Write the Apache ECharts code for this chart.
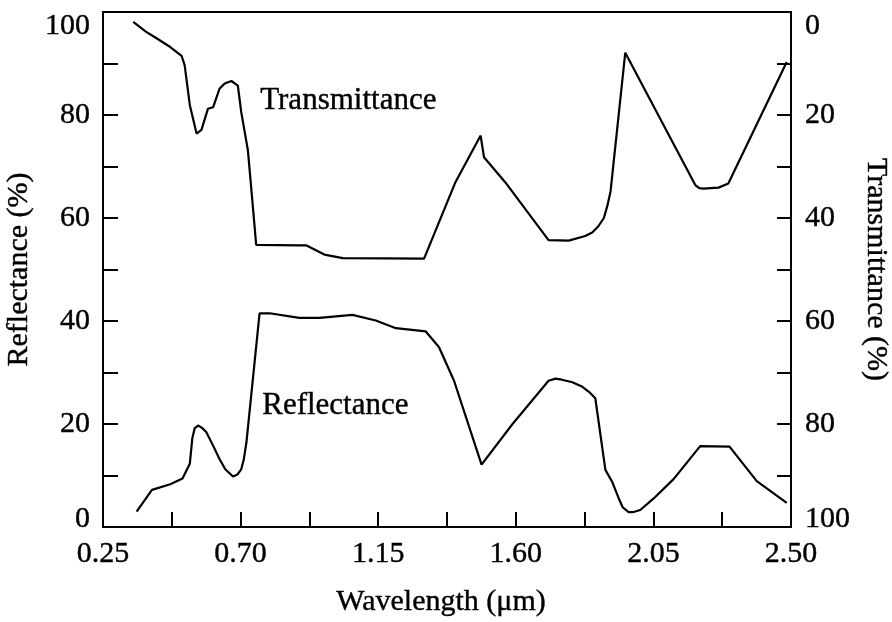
<!DOCTYPE html>
<html lang="en">
<head>
    <meta charset="UTF-8">
    <title>Reflectance and Transmittance</title>
    <script src="https://cdn.jsdelivr.net/npm/echarts@6/dist/echarts.min.js"></script>
    <style>
        html, body { margin: 0; padding: 0; background: #fff; }
    </style>
</head>
<body>
<div id="chart" style="width: 892px;height: 622px"></div>
<script type="text/javascript">
    // wavelength (um) and reflectance (%)
    var reflWavelength = [0.36, 0.41, 0.47, 0.51, 0.534, 0.542, 0.55, 0.561, 0.575, 0.588, 0.61, 0.631, 0.65, 0.675,
        0.69, 0.702, 0.71, 0.719, 0.762, 0.795, 0.892, 0.958, 1.066, 1.142, 1.208, 1.305, 1.349, 1.398, 1.488,
        1.588, 1.707, 1.73, 1.751, 1.785, 1.816, 1.84, 1.86, 1.893, 1.915, 1.937, 1.95, 1.969, 1.985, 2.007,
        2.05, 2.116, 2.203, 2.299, 2.388, 2.486];
    var reflValues = [3.0, 7.2, 8.3, 9.4, 12.3, 17.2, 19.2, 19.7, 19.2, 18.4, 15.8, 13.2, 11.2, 9.8,
        10.2, 11.2, 13.0, 16.4, 41.5, 41.5, 40.6, 40.6, 41.2, 40.1, 38.6, 38.0, 34.9, 28.4, 12.1,
        19.9, 28.4, 28.8, 28.6, 28.1, 27.3, 26.2, 25.0, 11.1, 8.8, 5.5, 3.8, 2.9, 2.9, 3.3,
        5.5, 9.3, 15.7, 15.6, 8.9, 4.7];

    // wavelength (um) and transmittance (%) on the right, inverted axis
    var transWavelength = [0.349, 0.39, 0.425, 0.47, 0.507, 0.517, 0.534, 0.556, 0.572, 0.593, 0.61, 0.631, 0.648, 0.67,
        0.691, 0.702, 0.724, 0.751, 0.892, 0.914, 0.974, 1.034, 1.3, 1.403, 1.485, 1.496, 1.566, 1.707, 1.773, 1.827,
        1.85, 1.87, 1.888, 1.9, 1.91, 1.958, 2.187, 2.2, 2.214, 2.263, 2.295, 2.486];
    var transValues = [1.9, 3.8, 5.1, 6.8, 8.5, 10.3, 18.1, 23.6, 22.9, 18.8, 18.5, 14.9, 13.9, 13.4,
        14.3, 19.4, 26.9, 45.2, 45.3, 45.3, 47.1, 47.8, 47.9, 33.0, 24.0, 28.2, 33.1, 44.3, 44.4, 43.5,
        42.8, 41.6, 40.0, 37.5, 34.8, 7.9, 33.6, 34.2, 34.3, 34.1, 33.3, 9.7];

    var xTickLabels = ['0.25', '0.70', '1.15', '1.60', '2.05', '2.50'];
    var yTickLabels = [0, 20, 40, 60, 80, 100];

    var FONT = '"Liberation Serif", "DejaVu Serif", serif';

    function pairs(xs, ys) {
        var out = [];
        for (var i = 0; i < xs.length; i++) out.push([xs[i], ys[i]]);
        return out;
    }

    // show only every other x tick label
    function xLabel(v) {
        var idx = Math.round((v - 0.25) / 0.225);
        return idx % 2 === 0 ? xTickLabels[idx / 2] : '';
    }

    function yLabelLeft(v) {
        if (yTickLabels.indexOf(v) < 0) return '';
        if (v === 100) return '{top|' + v + '}';
        if (v === 0) return '{bot|' + v + '}';
        return String(v);
    }

    function yLabelRight(v) {
        if (yTickLabels.indexOf(v) < 0) return '';
        if (v === 0) return '{top|' + v + '}';
        if (v === 100) return '{bot|' + v + '}';
        return String(v);
    }

    var textBase = {fontFamily: FONT, fontSize: 30, color: '#000', textBorderColor: '#000', textBorderWidth: 0.4};

    var edgeRich = {
        top: echarts.util.extend({padding: [28, 0, 0, 0]}, textBase),
        bot: echarts.util.extend({padding: [0, 0, 16, 0]}, textBase)
    };

    var myChart = echarts.init(document.getElementById('chart'));
    var option = {
        backgroundColor: '#fff',
        animation: false,
        grid: {
            left: 103, right: 101, top: 12, bottom: 95,
            outerBoundsMode: 'none',
            show: true, borderColor: '#000', borderWidth: 2, backgroundColor: 'transparent'
        },
        xAxis: {
            type: 'value',
            min: 0.25, max: 2.5, interval: 0.225,
            name: 'Wavelength (\u03bcm)',
            nameLocation: 'middle',
            nameGap: 60,
            nameTextStyle: echarts.util.extend({padding: [0, 12, 0, 0]}, textBase),
            axisLine: {lineStyle: {color: '#000', width: 2}},
            axisTick: {inside: true, length: 15, lineStyle: {color: '#000', width: 2}},
            axisLabel: echarts.util.extend({
                formatter: xLabel, margin: 12, showMinLabel: true, showMaxLabel: true
            }, textBase),
            splitLine: {show: false}
        },
        yAxis: [
            {
                type: 'value', position: 'left',
                min: 0, max: 100, interval: 10,
                name: 'Reflectance (%)',
                nameLocation: 'middle',
                nameGap: 53,
                nameTextStyle: textBase,
                axisLine: {show: true, lineStyle: {color: '#000', width: 2}},
                axisTick: {show: true, inside: true, length: 15, lineStyle: {color: '#000', width: 2}},
                axisLabel: echarts.util.extend({formatter: yLabelLeft, margin: 13, rich: edgeRich}, textBase),
                splitLine: {show: false}
            },
            {
                type: 'value', position: 'right', inverse: true,
                min: 0, max: 100, interval: 10,
                name: 'Transmittance (%)',
                nameLocation: 'middle',
                nameRotate: -90,
                nameGap: 64,
                nameTextStyle: textBase,
                axisLine: {show: true, lineStyle: {color: '#000', width: 2}},
                axisTick: {show: true, inside: true, length: 14, lineStyle: {color: '#000', width: 2}},
                axisLabel: echarts.util.extend({formatter: yLabelRight, margin: 14, rich: edgeRich}, textBase),
                splitLine: {show: false}
            }
        ],
        series: [
            {
                name: 'Reflectance',
                type: 'line',
                yAxisIndex: 0,
                data: pairs(reflWavelength, reflValues),
                showSymbol: false,
                lineStyle: {color: '#000', width: 2.2}
            },
            {
                name: 'Transmittance',
                type: 'line',
                yAxisIndex: 1,
                data: pairs(transWavelength, transValues),
                showSymbol: false,
                lineStyle: {color: '#000', width: 2.2}
            }
        ],
        graphic: [
            {
                type: 'text', left: 260, top: 85,
                style: {text: 'Transmittance', font: '31px ' + FONT, fill: '#000', stroke: '#000', lineWidth: 0.4}
            },
            {
                type: 'text', left: 262, top: 390,
                style: {text: 'Reflectance', font: '31px ' + FONT, fill: '#000', stroke: '#000', lineWidth: 0.4}
            }
        ]
    };
    myChart.setOption(option);
</script>
</body>
</html>
